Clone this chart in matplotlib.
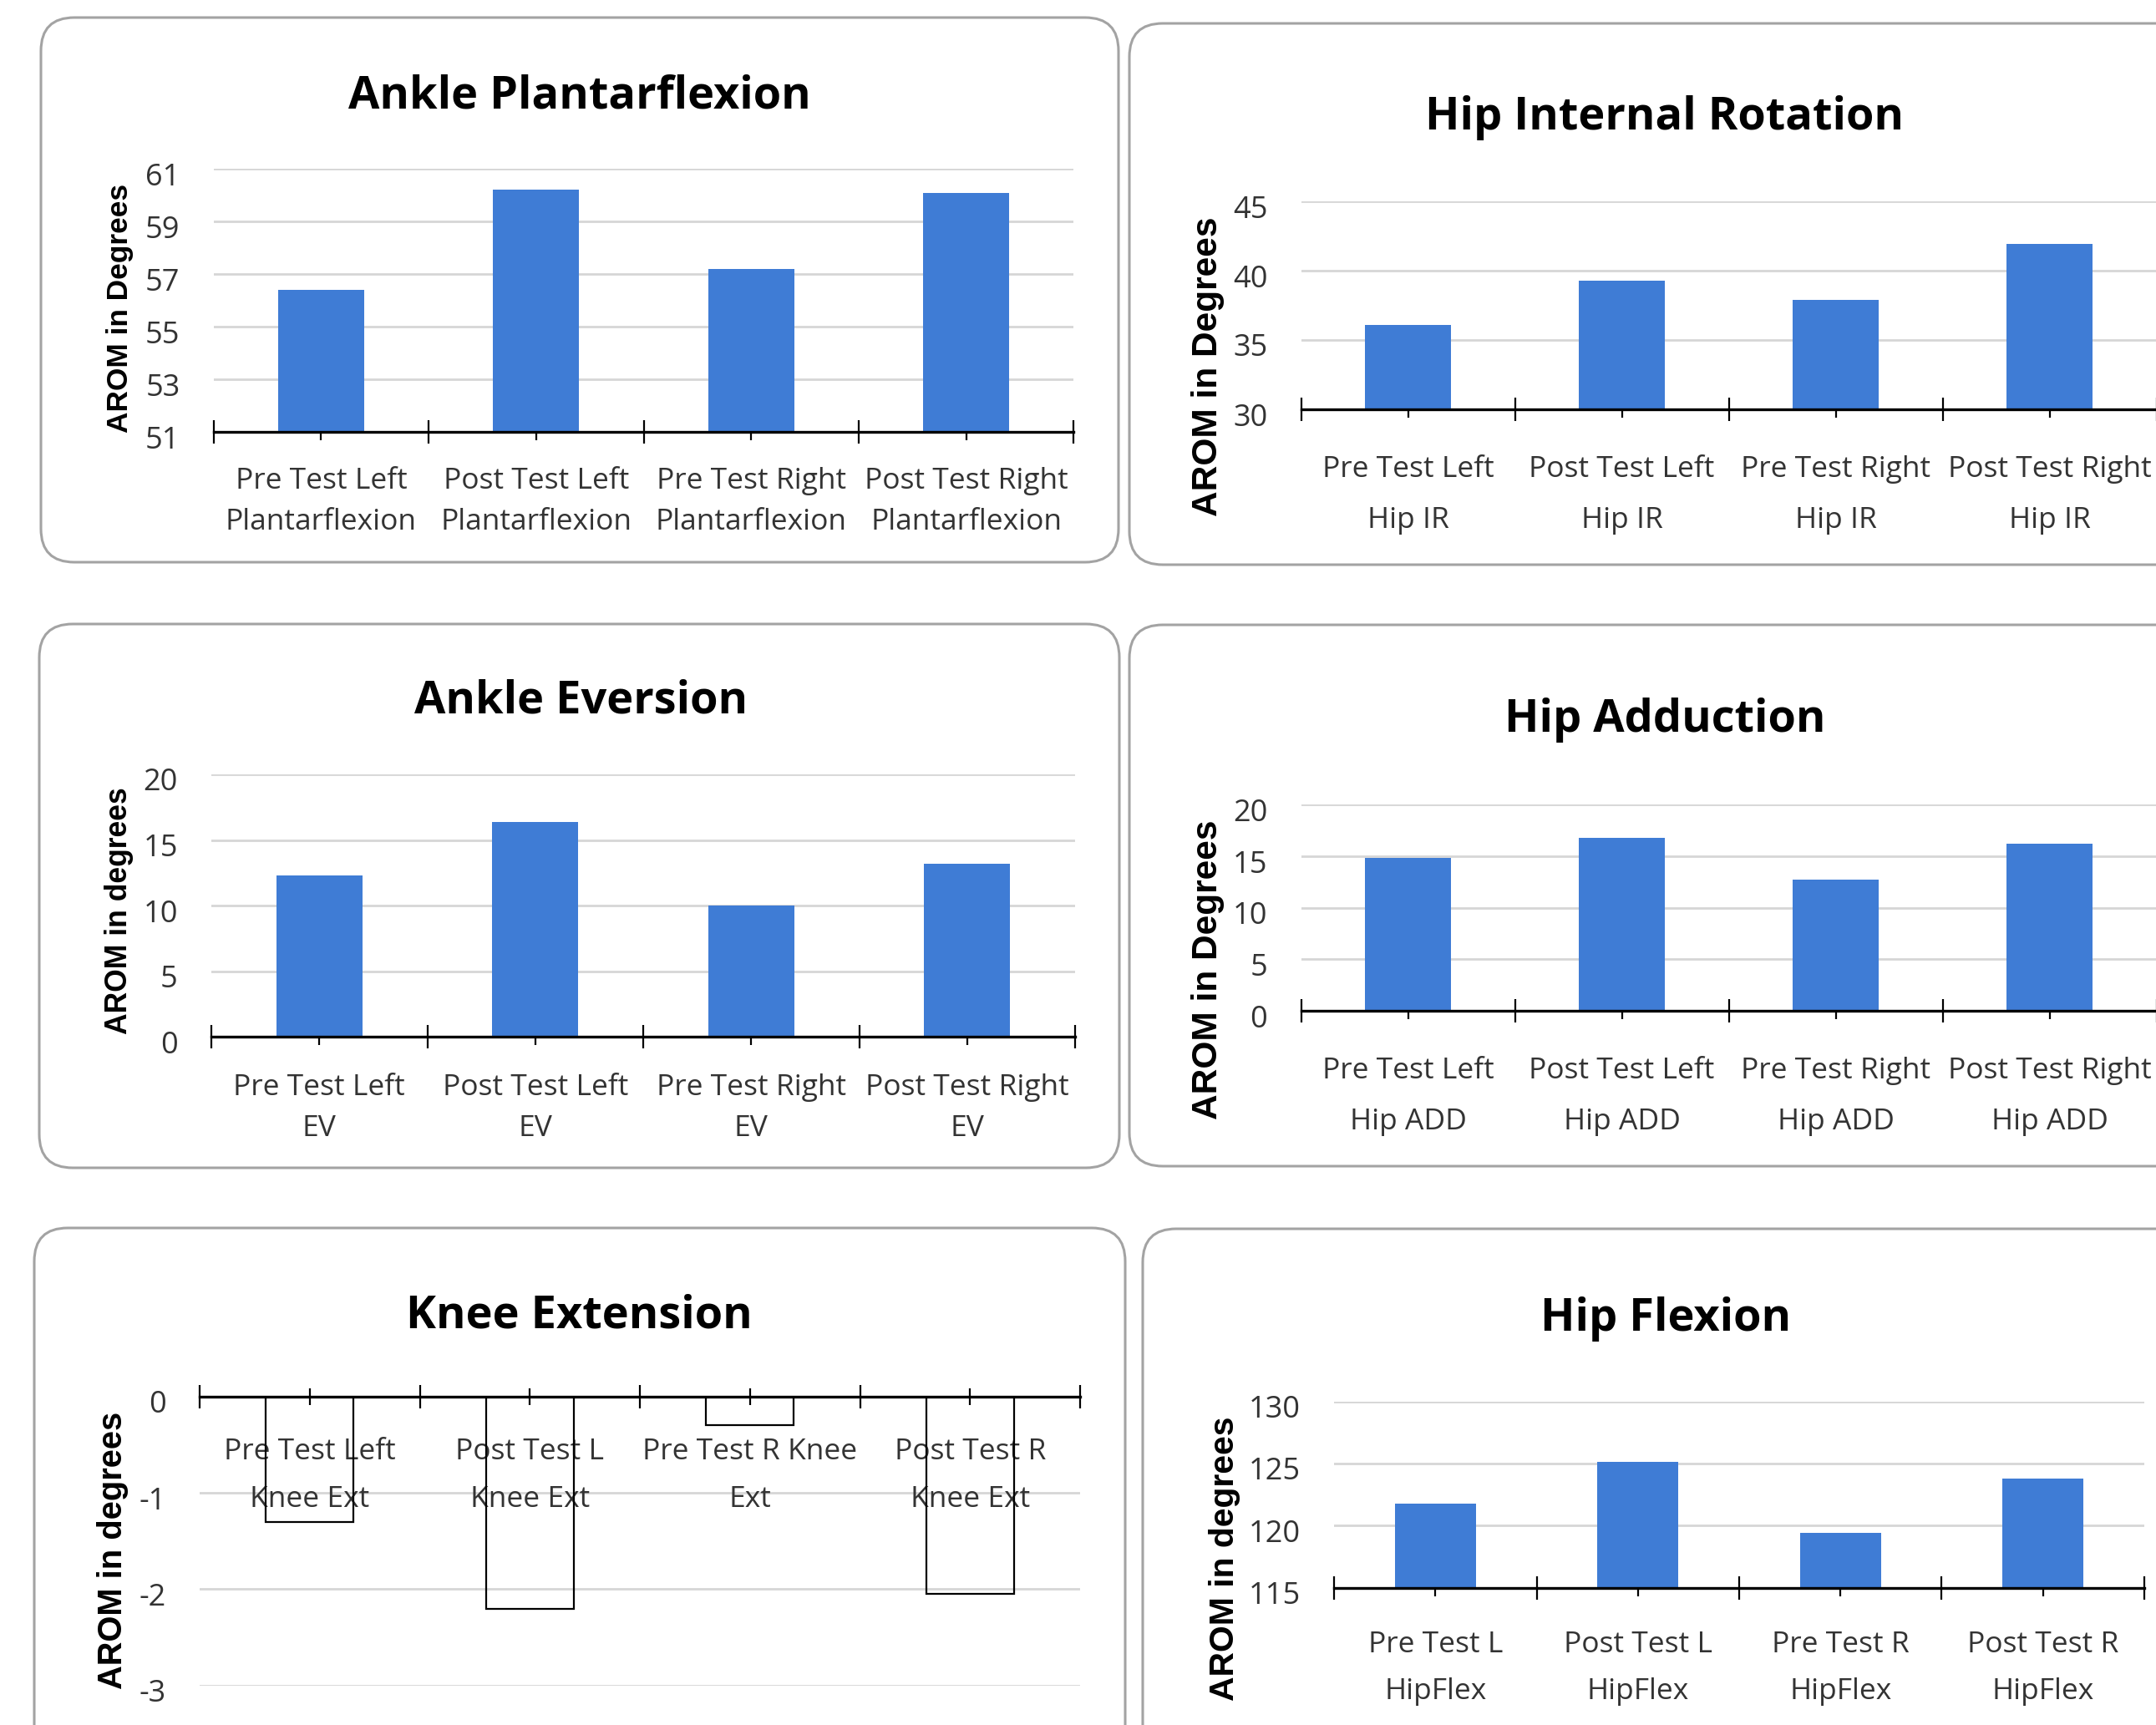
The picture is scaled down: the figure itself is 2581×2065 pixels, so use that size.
import matplotlib
matplotlib.use("Agg")
import matplotlib.pyplot as plt
from matplotlib.patches import FancyBboxPatch
from matplotlib.ticker import FixedLocator, NullFormatter
from matplotlib.transforms import ScaledTranslation

# ---------------- data ----------------
plantar_labels = [("Pre Test Left", "Plantarflexion"), ("Post Test Left", "Plantarflexion"),
                  ("Pre Test Right", "Plantarflexion"), ("Post Test Right", "Plantarflexion")]
plantar_values = [56.4, 60.2, 57.2, 60.1]
plantar_ticks = [51, 53, 55, 57, 59, 61]

hip_ir_labels = [("Pre Test Left", "Hip IR"), ("Post Test Left", "Hip IR"),
                 ("Pre Test Right", "Hip IR"), ("Post Test Right", "Hip IR")]
hip_ir_values = [36.1, 39.3, 37.9, 41.9]
hip_ir_ticks = [30, 35, 40, 45]

eversion_labels = [("Pre Test Left", "EV"), ("Post Test Left", "EV"),
                   ("Pre Test Right", "EV"), ("Post Test Right", "EV")]
eversion_values = [12.3, 16.4, 10.0, 13.2]
eversion_ticks = [0, 5, 10, 15, 20]

hip_add_labels = [("Pre Test Left", "Hip ADD"), ("Post Test Left", "Hip ADD"),
                  ("Pre Test Right", "Hip ADD"), ("Post Test Right", "Hip ADD")]
hip_add_values = [14.8, 16.8, 12.7, 16.2]
hip_add_ticks = [0, 5, 10, 15, 20]

knee_labels = [("Pre Test Left", "Knee Ext"), ("Post Test L", "Knee Ext"),
               ("Pre Test R Knee", "Ext"), ("Post Test R", "Knee Ext")]
knee_values = [-1.3, -2.2, -0.3, -2.05]
knee_ticks = [-3, -2, -1, 0]

hip_flex_labels = [("Pre Test L", "HipFlex"), ("Post Test L", "HipFlex"),
                   ("Pre Test R", "HipFlex"), ("Post Test R", "HipFlex")]
hip_flex_values = [121.8, 125.1, 119.4, 123.8]
hip_flex_ticks = [115, 120, 125, 130]

# ---------------- styling ----------------
W, H = 2581, 2065
BAR_BLUE = "#3F7CD5"
GRID = "#D6D6D6"
TEXT = "#333333"
BOX = "#A3A3A3"
TITLE_FONT = "Open Sans"
LABEL_FONT = "Open Sans"
YLABEL_FONT = "Liberation Sans"

fig = plt.figure(figsize=(W / 100, H / 100), dpi=100)
fig.patch.set_facecolor("white")

# pixel canvas for the rounded panel frames
bg = fig.add_axes([0, 0, 1, 1], zorder=-5)
bg.set_xlim(0, W)
bg.set_ylim(H, 0)
bg.axis("off")

# value labels sit slightly below their gridlines
tick_shift = ScaledTranslation(0, -6 / 100, fig.dpi_scale_trans)


def frame(x0, y0, x1, y1):
    bg.add_patch(FancyBboxPatch((x0, y0), x1 - x0, y1 - y0,
                                boxstyle="round,pad=0,rounding_size=40",
                                facecolor="white", edgecolor=BOX, linewidth=2.2))


def px_axes(x0, y_top, x1, y_bot):
    return fig.add_axes([x0 / W, 1 - y_bot / H, (x1 - x0) / W, (y_bot - y_top) / H])


def panel(box, ax_px, title, title_xy, ylabel, ylabel_xy, ylabel_size,
          values, ticks, labels, offsets, knee=False):
    frame(*box)
    ax = px_axes(*ax_px)
    ax.set_facecolor("none")
    x = list(range(len(values)))
    if knee:
        ax.bar(x, values, width=0.4, facecolor="none", edgecolor="black",
               linewidth=1.6, zorder=3)
    else:
        ax.bar(x, values, width=0.4, color=BAR_BLUE, zorder=2)
    ax.set_xlim(-0.5, len(values) - 0.5)
    ax.set_ylim(ticks[0], ticks[-1])
    ax.set_yticks(ticks)
    ax.set_yticklabels([str(t) for t in ticks], fontsize=26, family=LABEL_FONT, color=TEXT)
    ax.tick_params(axis="y", length=0, pad=29)
    for lab in ax.get_yticklabels():
        lab.set_transform(lab.get_transform() + tick_shift)
    # gridlines
    for t in ticks:
        if t != (ticks[-1] if knee else ticks[0]):
            ax.axhline(t, color=GRID, lw=2.0, zorder=1)
    for s in ax.spines.values():
        s.set_visible(False)
    axis_side = "top" if knee else "bottom"
    ax.spines[axis_side].set_visible(True)
    ax.spines[axis_side].set_linewidth(2.4)
    ax.spines[axis_side].set_color("black")
    ax.spines[axis_side].set_zorder(4)
    ax.xaxis.set_ticks_position(axis_side)
    ax.xaxis.set_major_locator(FixedLocator([i - 0.5 for i in range(len(values) + 1)]))
    ax.xaxis.set_minor_locator(FixedLocator(x))
    ax.xaxis.set_major_formatter(NullFormatter())
    ax.xaxis.set_minor_formatter(NullFormatter())
    ax.tick_params(axis="x", which="major", direction="inout", length=20, width=1.6, color="black")
    ax.tick_params(axis="x", which="minor", direction="inout", length=15, width=1.6, color="black")
    # category labels, two lines each
    yref = 1 if knee else 0
    for i, (l1, l2) in enumerate(labels):
        for txt, off in zip((l1, l2), offsets):
            ax.annotate(txt, xy=(i, yref), xycoords=("data", "axes fraction"),
                        xytext=(0, -off), textcoords="offset pixels",
                        ha="center", va="baseline", fontsize=25.5, family=LABEL_FONT,
                        color=TEXT, annotation_clip=False, zorder=1)
    fig.text(title_xy[0] / W, 1 - title_xy[1] / H, title, ha="center", va="baseline",
             fontsize=39, fontweight="bold", family=TITLE_FONT, color="black")
    fig.text(ylabel_xy[0] / W, 1 - ylabel_xy[1] / H, ylabel, ha="center", va="center",
             rotation=90, fontsize=ylabel_size, fontweight="bold", family=YLABEL_FONT,
             color="black")
    return ax


panel((49, 21, 1339, 673), (255.7, 202.2, 1285.4, 517.0),
      "Ankle Plantarflexion", (694, 129.5), "AROM in Degrees", (144, 368.5), 25.4,
      plantar_values, plantar_ticks, plantar_labels, (68, 117))

panel((1352, 28, 2720, 676), (1557.6, 241.0, 2581.6, 490.0),
      "Hip Internal Rotation", (1993, 155), "AROM in Degrees", (1446, 438.5), 30.5,
      hip_ir_values, hip_ir_ticks, hip_ir_labels, (81, 142))

panel((47, 747, 1340, 1398), (253.0, 927.0, 1287.0, 1241.4),
      "Ankle Eversion", (696, 854), "AROM in degrees", (143, 1090.5), 25.6,
      eversion_values, eversion_ticks, eversion_labels, (70, 119))

panel((1352, 748, 2720, 1396), (1557.6, 963.3, 2581.6, 1210.2),
      "Hip Adduction", (1993.7, 876), "AROM in Degrees", (1446, 1161), 30.5,
      hip_add_values, hip_add_ticks, hip_add_labels, (81, 141.5))

panel((41, 1470, 1347, 2250), (239.0, 1671.6, 1293.0, 2017.9),
      "Knee Extension", (693.5, 1589.5), "AROM in degrees", (135, 1855.5), 28.7,
      knee_values, knee_ticks, knee_labels, (75, 132), knee=True)

panel((1368, 1471, 2720, 2250), (1597.2, 1677.5, 2566.8, 1900.7),
      "Hip Flexion", (1994.5, 1593.4), "AROM in degrees", (1466, 1865.5), 29.4,
      hip_flex_values, hip_flex_ticks, hip_flex_labels, (77, 133))

fig.savefig("out.png", dpi=100, facecolor="white")
